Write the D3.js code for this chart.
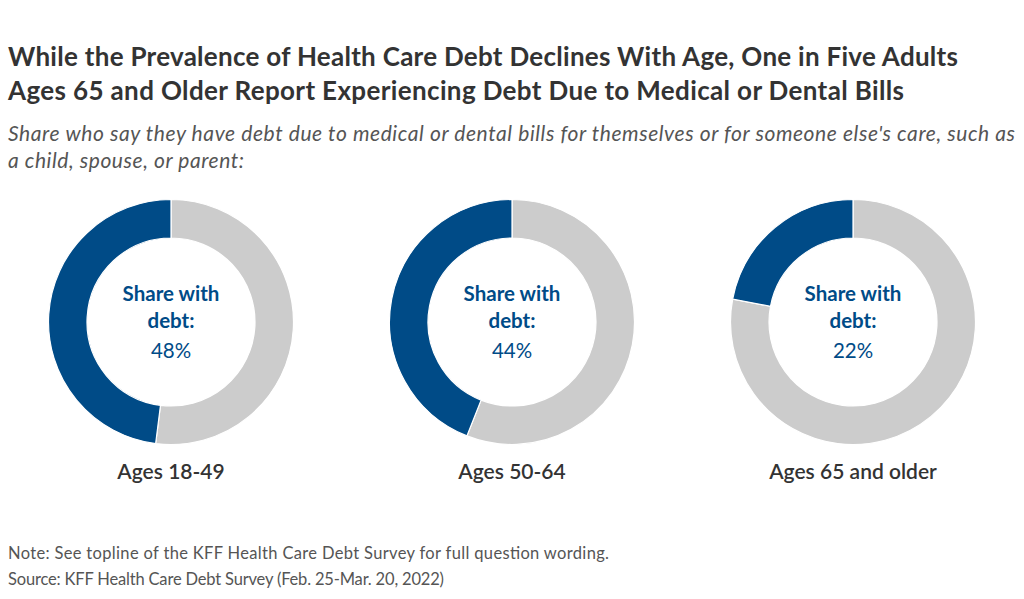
<!DOCTYPE html>
<html>
<head>
<meta charset="utf-8">
<script src="https://cdn.jsdelivr.net/npm/d3@7"></script>
<style>
  html, body { margin: 0; padding: 0; background: #fff; }
  svg { display: block; font-family: "Source Sans Pro", Lato, "Noto Sans", sans-serif; }
</style>
</head>
<body>
<svg id="chart" width="1024" height="599"></svg>
<script>
const categories = ["Ages 18-49", "Ages 50-64", "Ages 65 and older"];
const shareWithDebt = [48, 44, 22];
const centerLabelLines = ["Share with", "debt:"];
const titleLines = [
  "While the Prevalence of Health Care Debt Declines With Age, One in Five Adults",
  "Ages 65 and Older Report Experiencing Debt Due to Medical or Dental Bills"
];
const titleWidths = [950, 896];
const subtitleLines = [
  "Share who say they have debt due to medical or dental bills for themselves or for someone else's care, such as",
  "a child, spouse, or parent:"
];
const subtitleWidths = [1007, 236];
const noteLines = [
  "Note: See topline of the KFF Health Care Debt Survey for full question wording.",
  "Source: KFF Health Care Debt Survey (Feb. 25-Mar. 20, 2022)"
];
const noteWidths = [601, 436];

const svg = d3.select("#chart");
const blue = "#004b87", gray = "#cccccc", textDark = "#333333", textMid = "#555555";

svg.append("g").selectAll("text").data(titleLines).join("text")
  .attr("x", 8).attr("y", (d, i) => 66 + i * 33.5)
  .attr("font-size", 26).attr("font-weight", 700).attr("fill", textDark)
  .attr("textLength", (d, i) => titleWidths[i]).attr("lengthAdjust", "spacing")
  .text(d => d);

svg.append("g").selectAll("text").data(subtitleLines).join("text")
  .attr("x", 8).attr("y", (d, i) => 141 + i * 27)
  .attr("font-size", 21).attr("font-style", "italic").attr("fill", textMid)
  .attr("textLength", (d, i) => subtitleWidths[i]).attr("lengthAdjust", "spacing")
  .text(d => d);

svg.append("g").selectAll("text").data(noteLines).join("text")
  .attr("x", 8).attr("y", (d, i) => 559 + i * 26)
  .attr("font-size", 16.5).attr("fill", textMid)
  .attr("textLength", (d, i) => noteWidths[i]).attr("lengthAdjust", "spacing")
  .text(d => d);

const x = d3.scalePoint().domain(categories).range([171, 853]);
const cy = 322;
const outerR = 122.5, innerR = 84;
const pie = d3.pie().sort(null).value(d => d.v);
const arc = d3.arc().innerRadius(innerR).outerRadius(outerR);

categories.forEach((c, i) => {
  const v = shareWithDebt[i];
  const g = svg.append("g").attr("transform", `translate(${x(c)},${cy})`);
  const slices = pie([{ k: "no", v: 100 - v }, { k: "yes", v: v }]);
  g.selectAll("path").data(slices).join("path")
    .attr("d", arc)
    .attr("fill", d => d.data.k === "yes" ? blue : gray)
    .attr("stroke", "#fff").attr("stroke-width", 1.2);
  g.selectAll("text.lbl").data(centerLabelLines).join("text").attr("class", "lbl")
    .attr("text-anchor", "middle").attr("y", (d, j) => -21 + j * 27)
    .attr("font-size", 20.5).attr("font-weight", 700).attr("fill", blue)
    .text(d => d);
  g.append("text").attr("text-anchor", "middle").attr("y", 36)
    .attr("font-size", 20.5).attr("fill", blue).text(v + "%");
  g.append("text").attr("text-anchor", "middle").attr("y", 157)
    .attr("font-size", 21).attr("font-weight", 600).attr("fill", textDark)
    .text(c);
});
</script>
</body>
</html>
